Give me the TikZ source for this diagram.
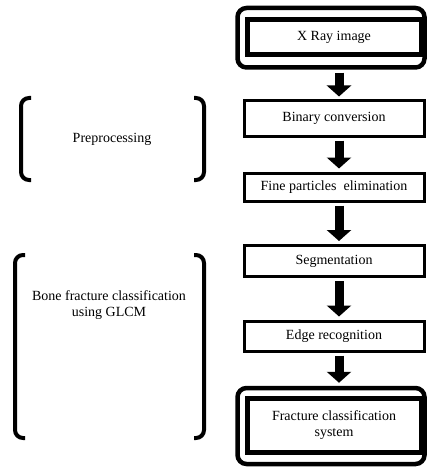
\documentclass[tikz,border=0pt]{standalone}
\usepackage{fontspec}
\setmainfont{Liberation Serif}
\usetikzlibrary{arrows.meta}

\begin{document}
\begin{tikzpicture}[x=1pt,y=-1pt,
    stage/.style={draw,line width=3pt,minimum width=180pt,inner sep=2pt,
        font=\fontsize{14}{16}\selectfont,align=center},
    endstage/.style={draw,line width=5pt,minimum width=174pt,inner sep=2pt,
        font=\fontsize{14}{16}\selectfont,align=center},
    outerframe/.style={draw,line width=4.5pt,rounded corners=9pt,minimum width=187pt},
    flow/.style={line width=9pt,-{Triangle[width=24pt,length=11pt]},
        shorten <=3pt,shorten >=3pt},
    sidebrace/.style={line width=4pt,rounded corners=8pt},
    sidetext/.style={font=\fontsize{14}{16}\selectfont,align=center}]
    \useasboundingbox (0,0) rectangle (427,468);

    \node[outerframe,minimum height=59.5pt] (xrayframe) at (331,37.75) {};
    \node[endstage,minimum height=34.5pt] (xray) at (334,37.25) {X Ray image};
    \node[stage,minimum height=35pt] (binary) at (334,118.5) {Binary conversion};
    \node[stage,minimum height=28pt] (fine) at (334,187) {Fine particles\ \ elimination};
    \node[stage,minimum height=31pt] (seg) at (334,261) {Segmentation};
    \node[stage,minimum height=30pt] (edge) at (334,336) {Edge recognition};
    \node[outerframe,minimum height=76pt] (fracframe) at (331,426) {};
    \node[endstage,minimum height=54pt] (frac) at (334,425) {Fracture classification\\system};

    \foreach \a/\sa/\b/\sb in {xrayframe/8/binary/5,binary/5/fine/5,fine/5/seg/5,
        seg/5/edge/5,edge/5/fracframe/8}
    \draw[flow] ([xshift=\sa pt]\a.south) -- ([xshift=\sb pt]\b.north);

    \draw[sidebrace] (31,98) -| (21,180) -- (31,180);
    \draw[sidebrace] (194,98) -| (204,180) -- (194,180);
    \node[sidetext] (prep) at (112,139) {Preprocessing};

    \draw[sidebrace] (25,255) -| (15,438) -- (25,438);
    \draw[sidebrace] (194,255) -| (204,438) -- (194,438);
    \node[sidetext] (bone) at (109,305) {Bone fracture classification\\using GLCM};
\end{tikzpicture}
\end{document}
